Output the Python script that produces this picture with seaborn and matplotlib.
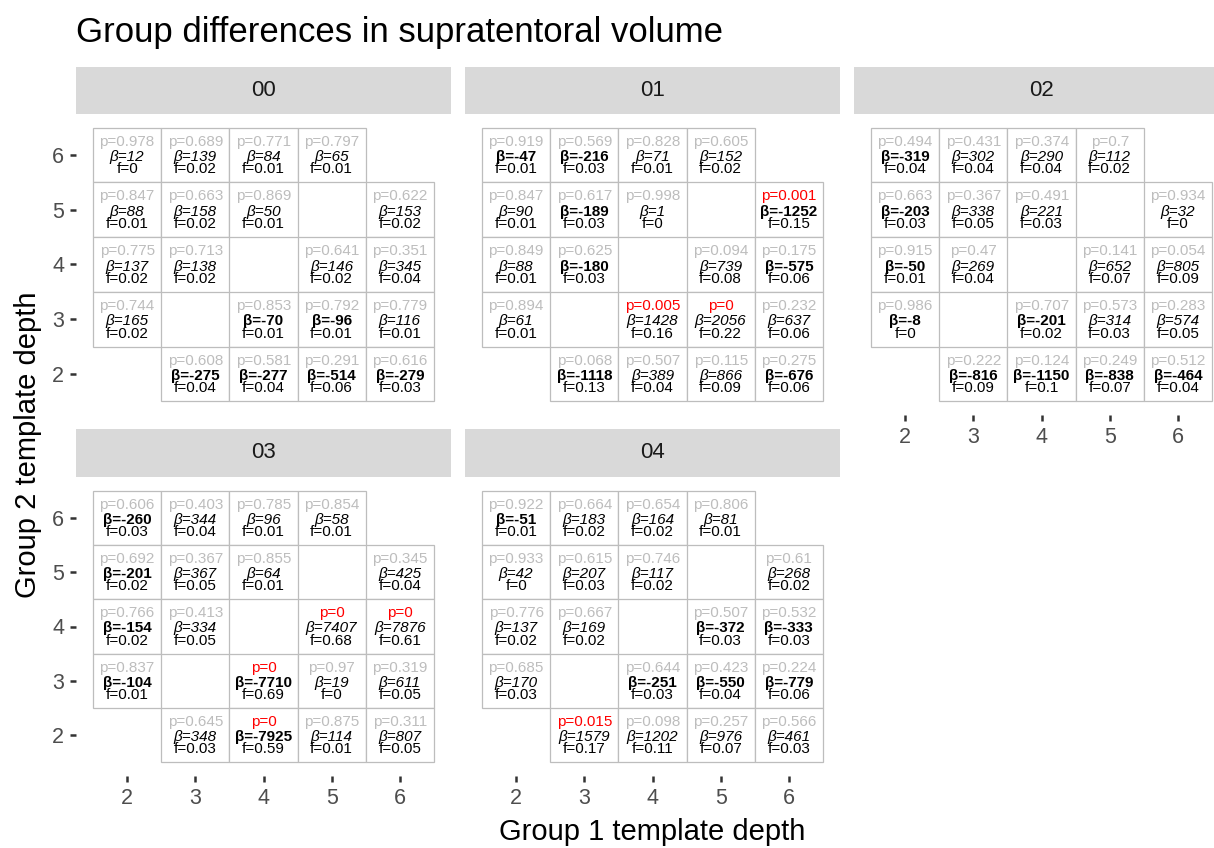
import matplotlib
matplotlib.use("Agg")
import matplotlib.pyplot as plt
import numpy as np
import pandas as pd
import seaborn as sns

# ---------------- data ----------------
panels = ["00", "01", "02", "03", "04"]
# cell order: group 2 depth rows 6..2, group 1 depth 2..6 (diagonal absent)
group1_depth = [2, 3, 4, 5,
                2, 3, 4, 6,
                2, 3, 5, 6,
                2, 4, 5, 6,
                3, 4, 5, 6]
group2_depth = [6, 6, 6, 6,
                5, 5, 5, 5,
                4, 4, 4, 4,
                3, 3, 3, 3,
                2, 2, 2, 2]

p_00 = [0.978, 0.689, 0.771, 0.797, 0.847, 0.663, 0.869, 0.622, 0.775, 0.713,
        0.641, 0.351, 0.744, 0.853, 0.792, 0.779, 0.608, 0.581, 0.291, 0.616]
beta_00 = [12, 139, 84, 65, 88, 158, 50, 153, 137, 138,
           146, 345, 165, -70, -96, 116, -275, -277, -514, -279]
f_00 = [0, 0.02, 0.01, 0.01, 0.01, 0.02, 0.01, 0.02, 0.02, 0.02,
        0.02, 0.04, 0.02, 0.01, 0.01, 0.01, 0.04, 0.04, 0.06, 0.03]

p_01 = [0.919, 0.569, 0.828, 0.605, 0.847, 0.617, 0.998, 0.001, 0.849, 0.625,
        0.094, 0.175, 0.894, 0.005, 0.0, 0.232, 0.068, 0.507, 0.115, 0.275]
beta_01 = [-47, -216, 71, 152, 90, -189, 1, -1252, 88, -180,
           739, -575, 61, 1428, 2056, 637, -1118, 389, 866, -676]
f_01 = [0.01, 0.03, 0.01, 0.02, 0.01, 0.03, 0, 0.15, 0.01, 0.03,
        0.08, 0.06, 0.01, 0.16, 0.22, 0.06, 0.13, 0.04, 0.09, 0.06]

p_02 = [0.494, 0.431, 0.374, 0.7, 0.663, 0.367, 0.491, 0.934, 0.915, 0.47,
        0.141, 0.054, 0.986, 0.707, 0.573, 0.283, 0.222, 0.124, 0.249, 0.512]
beta_02 = [-319, 302, 290, 112, -203, 338, 221, 32, -50, 269,
           652, 805, -8, -201, 314, 574, -816, -1150, -838, -464]
f_02 = [0.04, 0.04, 0.04, 0.02, 0.03, 0.05, 0.03, 0, 0.01, 0.04,
        0.07, 0.09, 0, 0.02, 0.03, 0.05, 0.09, 0.1, 0.07, 0.04]

p_03 = [0.606, 0.403, 0.785, 0.854, 0.692, 0.367, 0.855, 0.345, 0.766, 0.413,
        0.0, 0.0, 0.837, 0.0, 0.97, 0.319, 0.645, 0.0, 0.875, 0.311]
beta_03 = [-260, 344, 96, 58, -201, 367, 64, 425, -154, 334,
           7407, 7876, -104, -7710, 19, 611, 348, -7925, 114, 807]
f_03 = [0.03, 0.04, 0.01, 0.01, 0.02, 0.05, 0.01, 0.04, 0.02, 0.05,
        0.68, 0.61, 0.01, 0.69, 0, 0.05, 0.03, 0.59, 0.01, 0.05]

p_04 = [0.922, 0.664, 0.654, 0.806, 0.933, 0.615, 0.746, 0.61, 0.776, 0.667,
        0.507, 0.532, 0.685, 0.644, 0.423, 0.224, 0.015, 0.098, 0.257, 0.566]
beta_04 = [-51, 183, 164, 81, 42, 207, 117, 268, 137, 169,
           -372, -333, 170, -251, -550, -779, 1579, 1202, 976, 461]
f_04 = [0.01, 0.02, 0.02, 0.01, 0, 0.03, 0.02, 0.02, 0.02, 0.02,
        0.03, 0.03, 0.03, 0.03, 0.04, 0.06, 0.17, 0.11, 0.07, 0.03]

p_all = [p_00, p_01, p_02, p_03, p_04]
beta_all = [beta_00, beta_01, beta_02, beta_03, beta_04]
f_all = [f_00, f_01, f_02, f_03, f_04]

depth_ticks = [2, 3, 4, 5, 6]

frames = []
for name, pv, bv, fv in zip(panels, p_all, beta_all, f_all):
    frames.append(pd.DataFrame({"panel": name, "g1": group1_depth, "g2": group2_depth,
                                "p": pv, "beta": bv, "f": fv}))
df = pd.concat(frames, ignore_index=True)

# ---------------- style ----------------
sns.set_theme(style="white")
plt.rcParams["font.family"] = ["Liberation Sans", "DejaVu Sans"]

W, H = 1214, 848
fig = plt.figure(figsize=(W / 100, H / 100), dpi=100)
fig.patch.set_facecolor("white")

def fx(px):
    return px / W

def fy(py):
    return 1 - py / H

col_left = [76, 465, 854]
panel_w = 375
rows = [  # (strip_top, panel_top, panel_bottom)
    (67, 114, 415),
    (429, 477, 776),
]

positions = {"00": (0, 0), "01": (0, 1), "02": (0, 2), "03": (1, 0), "04": (1, 1)}
FS = 11

for name in panels:
    r, c = positions[name]
    st, pt, pb = rows[r]
    left = col_left[c]
    ax = fig.add_axes([fx(left), fy(pb), panel_w / W, (pb - pt) / H])
    sax = fig.add_axes([fx(left), fy(pt), panel_w / W, (pt - st) / H])
    sax.set_facecolor("#D9D9D9")
    sax.set_xticks([]); sax.set_yticks([])
    for s in sax.spines.values():
        s.set_visible(False)
    sax.text(0.5, 0.5, name, ha="center", va="center", fontsize=16, color="#1A1A1A",
             transform=sax.transAxes)

    sub = df[df.panel == name]
    ax.bar(sub.g1, 1.0, width=1.0, bottom=sub.g2 - 0.5, color="white",
           edgecolor="#BDBDBD", linewidth=0.9, zorder=1)
    for _, row in sub.iterrows():
        x, y = row.g1, row.g2
        pcol = "#FF0000" if row.p < 0.05 else "#BDBDBD"
        ax.text(x, y + 0.17, f"p={round(row.p, 3):g}", ha="center", va="baseline",
                fontsize=FS, color=pcol, zorder=3)
        b = int(row.beta)
        if b < 0:
            ax.text(x, y - 0.11, f"β={b}", ha="center", va="baseline", fontsize=FS,
                    fontweight="bold", color="black", zorder=3)
        else:
            ax.text(x, y - 0.11, f"β={b}", ha="center", va="baseline", fontsize=FS,
                    fontstyle="italic", color="black", zorder=3)
        ax.text(x, y - 0.335, f"f={round(row.f, 2):g}", ha="center", va="baseline",
                fontsize=FS, color="black", zorder=3)

    ax.set_xlim(1.25, 6.75)
    ax.set_ylim(1.25, 6.75)
    ax.set_xticks(depth_ticks)
    ax.set_yticks(depth_ticks)
    ax.set_xticklabels([str(t) for t in depth_ticks])
    ax.set_yticklabels([str(t) for t in depth_ticks])
    ax.set_facecolor("white")
    for s in ax.spines.values():
        s.set_visible(False)
    ax.grid(False)
    show_x = name in ("02", "03", "04")
    show_y = c == 0
    ax.tick_params(axis="x", bottom=show_x, labelbottom=show_x, length=4.5, width=1.8,
                   color="#333333", labelcolor="#4D4D4D", labelsize=15.5, pad=4)
    ax.tick_params(axis="y", left=show_y, labelleft=show_y, length=4.5, width=1.8,
                   color="#333333", labelcolor="#4D4D4D", labelsize=15.5, pad=4)
    ax.set_xlabel("")
    ax.set_ylabel("")

fig.text(fx(76), fy(42), "Group differences in supratentoral volume", ha="left",
         va="baseline", fontsize=25, color="black")
fig.text(fx(652), fy(832), "Group 1 template depth", ha="center", va="center",
         fontsize=21, color="black")
fig.text(fx(28), fy(445), "Group 2 template depth", ha="center", va="center",
         rotation=90, fontsize=21, color="black")

fig.savefig("out.png", dpi=100)
